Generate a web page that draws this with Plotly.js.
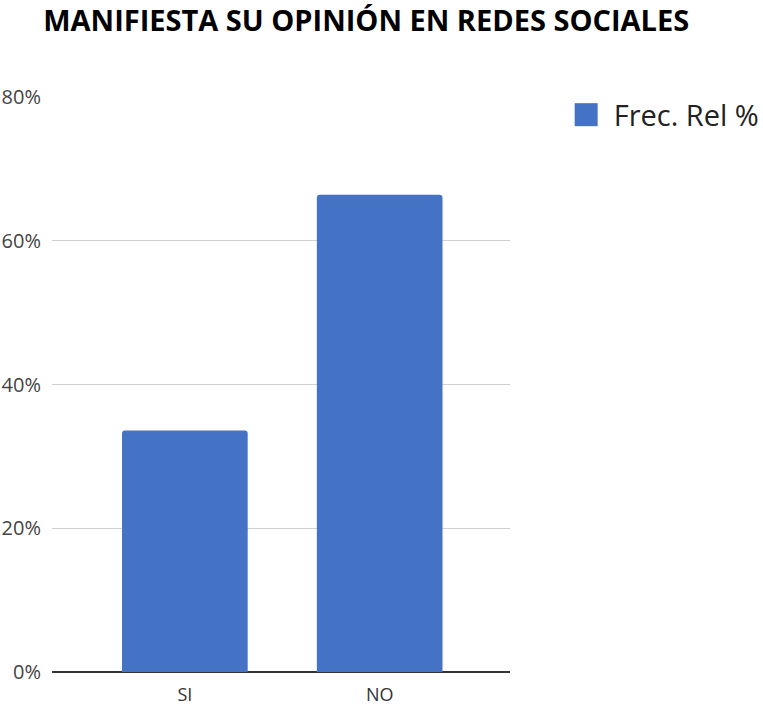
<!DOCTYPE html>
<html>
<head>
<meta charset="utf-8">
<script src="https://cdn.plot.ly/plotly-3.0.1.min.js"></script>
<style>html,body{margin:0;padding:0;background:#fff;}#chart{width:763px;height:708px;}</style>
</head>
<body>
<div id="chart"></div>
<script>
const categories = ["SI", "NO"];
const frecRel = [33.6, 66.4];
const seriesName = "Frec. Rel %";
const yTicks = [0, 20, 40, 60, 80];
const yTickLabels = ["0%", "20%", "40%", "60%", "80%"];
const chartTitle = "MANIFIESTA SU OPINIÓN EN REDES SOCIALES";

const trace = {
  type: "bar",
  x: categories,
  y: frecRel,
  name: seriesName,
  width: 0.645,
  marker: { color: "#4472C4", cornerradius: 3 },
  hoverinfo: "x+y",
  showlegend: true
};

const layout = {
  width: 763,
  height: 708,
  margin: { l: 52, r: 253, t: 97, b: 36, autoexpand: false },
  paper_bgcolor: "#ffffff",
  plot_bgcolor: "#ffffff",
  font: { family: "Open Sans, sans-serif", color: "#444444", size: 18 },
  title: {
    text: "<b>" + chartTitle + "</b>",
    font: { family: "Open Sans, sans-serif", size: 29, color: "#000000" },
    x: 0.48, xref: "container", xanchor: "center",
    y: 0.971, yref: "container", yanchor: "middle"
  },
  showlegend: true,
  legend: {
    x: 1.139, xanchor: "left", y: 0.969, yanchor: "middle",
    font: { family: "Open Sans, sans-serif", size: 29, color: "#222222" },
    bgcolor: "rgba(0,0,0,0)"
  },
  xaxis: {
    type: "category",
    range: [-0.682, 1.669],
    showgrid: false,
    showline: false,
    zeroline: false,
    ticks: "",
    ticklabelstandoff: 10,
    tickfont: { size: 18, color: "#333333" }
  },
  yaxis: {
    range: [0, 80],
    tickvals: yTicks,
    ticktext: yTickLabels,
    showgrid: true,
    gridcolor: "#d0d0d0",
    gridwidth: 1,
    zeroline: true,
    zerolinecolor: "#333333",
    zerolinewidth: 1.5,
    showline: false,
    ticks: "",
    ticklabelstandoff: 10,
    tickfont: { size: 20, color: "#444444" }
  },
  bargap: 0.35
};

Plotly.newPlot("chart", [trace], layout, { displayModeBar: false, staticPlot: true }).then(function () {
  document.querySelectorAll(".legend .scrollbox").forEach(function (s) { s.removeAttribute("clip-path"); });
  document.querySelectorAll(".legend").forEach(function (s) { s.removeAttribute("clip-path"); });
  document.querySelectorAll(".legendpoints path").forEach(function (p) {
    p.setAttribute("d", "M24,11.5H1V-11.5H24Z");
    p.removeAttribute("transform");
  });
});
</script>
</body>
</html>
